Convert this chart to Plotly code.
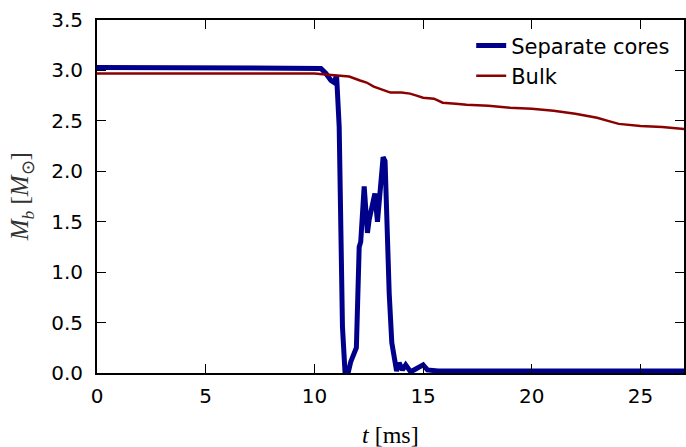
import plotly.graph_objects as go

# Separate cores series
sep_t = [0, 2, 4, 6, 8, 10, 10.3, 10.53, 10.76, 10.9, 11.02, 11.14, 11.22, 11.29, 11.41, 11.55, 11.67, 11.83, 11.93,
         12.06, 12.13, 12.29, 12.37, 12.44, 12.52, 12.67, 12.78, 12.9, 13.0, 13.16, 13.25, 13.31, 13.44, 13.56, 13.67,
         13.78, 13.9, 14.05, 14.2, 14.43, 14.58, 14.81, 15.0, 15.2, 15.7, 16.5, 17.5, 18.5, 19.5, 20.5, 21.3, 21.8,
         22.5, 23.3, 23.8, 24.5, 25.5, 26.5, 27]
sep_m = [3.03, 3.03, 3.03, 3.03, 3.03, 3.03, 3.02, 2.97, 2.90, 2.88, 2.95, 2.44, 1.45, 0.46, 0.0, 0.0, 0.11, 0.2, 0.25,
         1.25, 1.30, 1.85, 1.63, 1.39, 1.52, 1.68, 1.78, 1.50, 1.71, 2.14, 2.10, 1.62, 0.79, 0.30, 0.13,
         0.02, 0.10, 0.03, 0.08, 0.01, 0.03, 0.06, 0.08, 0.03, 0.02, 0.02, 0.02, 0.02, 0.02, 0.02, 0.03, 0.02,
         0.02, 0.03, 0.02, 0.02, 0.02, 0.02, 0.02]

# Bulk series
bulk_t = [0, 5, 10, 10.5, 11, 11.6, 12.1, 12.4, 12.73, 13.1, 13.5, 14.0, 14.4, 14.7, 15.0, 15.5, 15.9, 16.5, 17,
          18, 19, 20, 21, 22, 23, 23.5, 24, 25, 26, 27]
bulk_m = [2.97, 2.97, 2.97, 2.96, 2.95, 2.94, 2.90, 2.88, 2.84, 2.81, 2.78, 2.78, 2.77, 2.75, 2.73, 2.72, 2.68,
          2.67, 2.66, 2.65, 2.63, 2.62, 2.60, 2.57, 2.53, 2.50, 2.47, 2.45, 2.44, 2.42]

x_ticks = [0, 5, 10, 15, 20, 25]
y_ticks = [0.0, 0.5, 1.0, 1.5, 2.0, 2.5, 3.0, 3.5]

fig = go.Figure()
fig.add_trace(go.Scatter(x=sep_t, y=sep_m, mode="lines", name="Separate cores",
                         line=dict(color="#00008B", width=5)))
fig.add_trace(go.Scatter(x=bulk_t, y=bulk_m, mode="lines", name="Bulk",
                         line=dict(color="#8B0000", width=2.5)))

axis_common = dict(showline=True, linecolor="black", linewidth=2, mirror="ticks",
                   ticks="inside", ticklen=9, tickwidth=1, tickcolor="black",
                   showgrid=False, zeroline=False, automargin=False,
                   tickfont=dict(family="DejaVu Sans", size=20, color="black"))

fig.update_xaxes(range=[0, 27], tickvals=x_ticks, ticktext=[str(v) for v in x_ticks],
                 ticklabelstandoff=4, **axis_common)
fig.update_yaxes(range=[0, 3.5], tickvals=y_ticks, ticktext=[f"{v:.1f}" for v in y_ticks],
                 ticklabelstandoff=8, **axis_common)

fig.add_annotation(text="<i>t</i> [ms]", xref="paper", yref="paper", x=0.5, y=-0.175,
                   xanchor="center", yanchor="middle", showarrow=False,
                   font=dict(family="Liberation Serif", size=24, color="black"))
fig.add_annotation(text="<i>M<sub>b</sub></i> [<i>M</i><sub>⊙</sub>]", xref="paper", yref="paper",
                   x=-0.128, y=0.5, xanchor="center", yanchor="middle", textangle=-90, showarrow=False,
                   font=dict(family="Liberation Serif", size=25, color="#333333"))

fig.update_layout(
    width=686, height=447,
    margin=dict(l=97, r=2, t=20, b=74),
    plot_bgcolor="white", paper_bgcolor="white",
    showlegend=True,
    legend=dict(x=0.985, y=0.985, xanchor="right", yanchor="top", bgcolor="rgba(0,0,0,0)",
                font=dict(family="DejaVu Sans", size=21, color="black"), tracegroupgap=0),
)

fig.write_html("out.html", config={"displayModeBar": False},
               post_script="document.body.style.margin='0';document.body.style.padding='0';")
